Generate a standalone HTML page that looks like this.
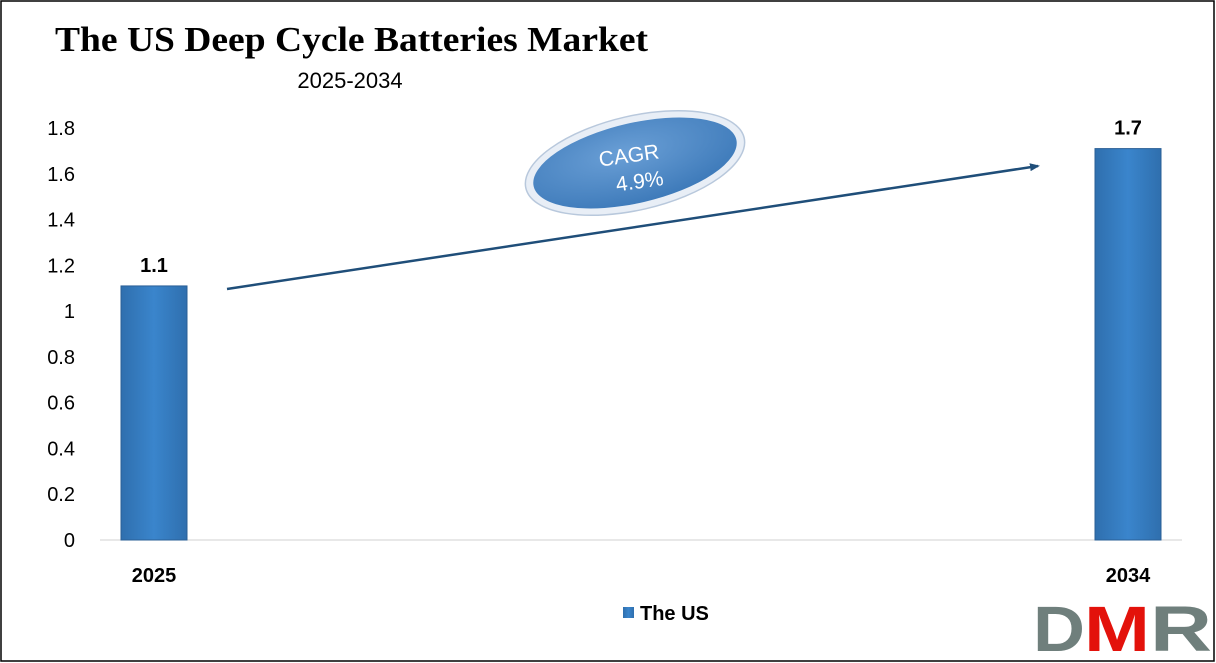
<!DOCTYPE html>
<html><head><meta charset="utf-8"><style>
html,body{margin:0;padding:0;background:#fff;}
#wrap{position:relative;width:1216px;height:663px;overflow:hidden;}
svg{position:absolute;left:0;top:0;}
</style></head><body>
<div id="wrap">
<svg id="chart" width="1216" height="663" font-family="'Liberation Sans', sans-serif">
  <defs>
    <linearGradient id="barg" x1="0" x2="1" y1="0" y2="0">
      <stop offset="0" stop-color="#2f6fae"/><stop offset="0.5" stop-color="#3a85cc"/><stop offset="1" stop-color="#2f6fae"/>
    </linearGradient>
    <radialGradient id="ellg" cx="0.45" cy="0.35" r="0.7">
      <stop offset="0" stop-color="#6a9fd6"/><stop offset="1" stop-color="#3b78b8"/>
    </radialGradient>
    <marker id="arrow" markerWidth="10" markerHeight="8" refX="8" refY="4" orient="auto" markerUnits="userSpaceOnUse">
      <path d="M0,0 L10,4 L0,8 Z" fill="#1f4e79"/>
    </marker>
  </defs>
  <rect x="1" y="1" width="1213" height="660" fill="#fff" stroke="#000" stroke-width="1.5"/>
  <text x="55" y="51" font-family="'Liberation Serif', serif" font-weight="bold" font-size="35" textLength="593" lengthAdjust="spacingAndGlyphs" fill="#000">The US Deep Cycle Batteries Market</text>
  <text x="350" y="88" font-size="22" fill="#000" text-anchor="middle">2025-2034</text>
  <g id="yaxis"></g>
  <line x1="100" y1="540" x2="1182" y2="540" stroke="#d0d0d0" stroke-width="1"/>
  <g id="bars"></g>
  <line x1="227" y1="289" x2="1038" y2="166" stroke="#1f4e79" stroke-width="2.5" marker-end="url(#arrow)"/>
  <g transform="rotate(-13 635 163)">
    <ellipse cx="635" cy="163" rx="112" ry="47" fill="#e8eef6" stroke="#b8c8dc" stroke-width="1.5"/>
    <ellipse cx="635" cy="163" rx="104" ry="40" fill="url(#ellg)"/>
  </g>
  <g transform="rotate(-8 633 163)">
    <text x="630" y="162" font-size="21" fill="#fff" text-anchor="middle">CAGR</text>
    <text x="637" y="189" font-size="21" fill="#fff" text-anchor="middle">4.9%</text>
  </g>
  <rect x="623" y="607" width="11" height="11" fill="url(#barg)"/>
  <text x="640" y="620" font-size="20" font-weight="bold" fill="#000">The US</text>
  <g>
    <text x="1033" y="651" font-size="64" font-weight="bold" fill="#6f7f7c" textLength="52" lengthAdjust="spacingAndGlyphs">D</text>
    <text x="1084" y="651" font-size="64" font-weight="bold" fill="#e3120b" textLength="66" lengthAdjust="spacingAndGlyphs">M</text>
    <text x="1150" y="651" font-size="64" font-weight="bold" fill="#6f7f7c" textLength="62" lengthAdjust="spacingAndGlyphs">R</text>
  </g>
</svg>
</div>
<script>
const categories = ["2025", "2034"];
const values = [1.11, 1.71];
const valueLabels = ["1.1", "1.7"];
const yTicks = [0, 0.2, 0.4, 0.6, 0.8, 1, 1.2, 1.4, 1.6, 1.8];
const yTickLabels = ["0", "0.2", "0.4", "0.6", "0.8", "1", "1.2", "1.4", "1.6", "1.8"];

const NS = "http://www.w3.org/2000/svg";
const y0 = 540, yTop = 128, yMax = 1.8;
function yScale(v){ return y0 - (v / yMax) * (y0 - yTop); }
const catX = [154, 1128];
function xScale(i){ return catX[0] + i * (catX[1] - catX[0]) / (categories.length - 1); }
const barW = 66;

const yg = document.getElementById('yaxis');
yTicks.forEach((t, i) => {
  const tx = document.createElementNS(NS, 'text');
  tx.setAttribute('x', 75); tx.setAttribute('y', yScale(t) + 7);
  tx.setAttribute('text-anchor', 'end'); tx.setAttribute('font-size', '20'); tx.setAttribute('fill', '#000');
  tx.textContent = yTickLabels[i];
  
  
  yg.appendChild(tx);
});

const bg = document.getElementById('bars');
categories.forEach((c, i) => {
  const cx = xScale(i), top = yScale(values[i]);
  const r = document.createElementNS(NS, 'rect');
  r.setAttribute('x', cx - barW/2); r.setAttribute('y', top);
  r.setAttribute('width', barW); r.setAttribute('height', y0 - top);
  r.setAttribute('fill', 'url(#barg)'); r.setAttribute('stroke', '#2a5f96'); r.setAttribute('stroke-width', '1');
  
  
  bg.appendChild(r);
  const vl = document.createElementNS(NS, 'text');
  vl.setAttribute('x', cx); vl.setAttribute('y', top - 14);
  vl.setAttribute('text-anchor', 'middle'); vl.setAttribute('font-size', '20'); vl.setAttribute('font-weight', 'bold');
  vl.textContent = valueLabels[i];
  
  
  bg.appendChild(vl);
  const xl = document.createElementNS(NS, 'text');
  xl.setAttribute('x', cx); xl.setAttribute('y', 582);
  xl.setAttribute('text-anchor', 'middle'); xl.setAttribute('font-size', '20'); xl.setAttribute('font-weight', 'bold');
  xl.textContent = c;
  
  
  bg.appendChild(xl);
});
</script>
</body></html>
